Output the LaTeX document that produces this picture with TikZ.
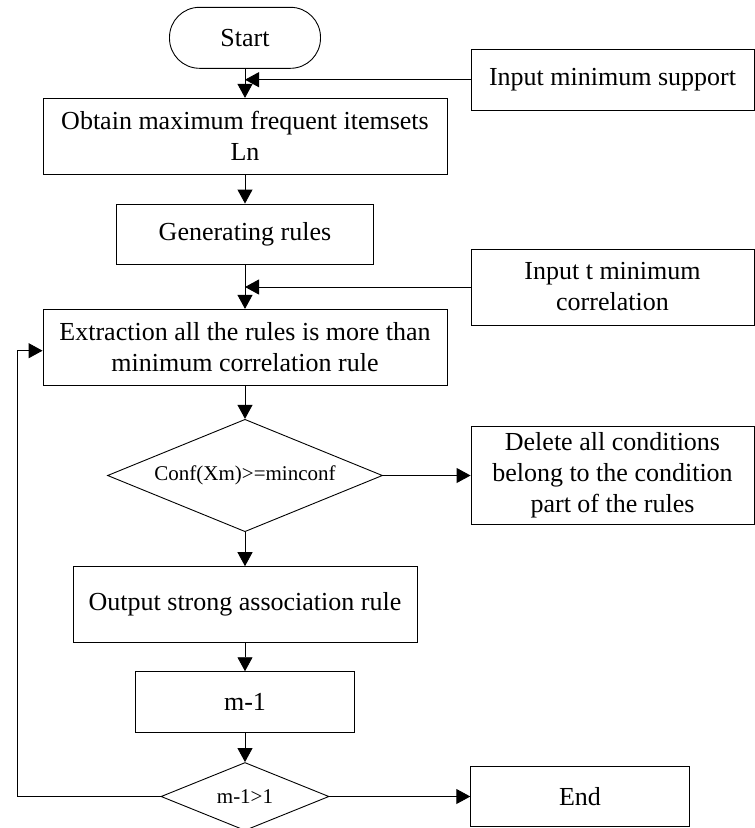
\documentclass[tikz,border=0pt]{standalone}
\usepackage{fontspec}
\setmainfont{Liberation Serif}
\usetikzlibrary{shapes.geometric,arrows.meta}
\begin{document}
\begin{tikzpicture}[x=1pt,y=-1pt,
  box/.style={draw,line width=0.9pt,inner sep=2pt,align=center,font=\fontsize{26}{31}\selectfont},
  dia/.style={draw,diamond,line width=0.9pt,inner sep=0pt,font=\fontsize{21}{25}\selectfont},
  arr/.style={line width=0.9pt,-{Triangle[length=14pt,width=15pt]}},
  ln/.style={line width=0.9pt}]
\useasboundingbox (0,0) rectangle (755,828);
\node[box,rounded corners=30pt,minimum width=151pt,minimum height=61pt] (start) at (245,37.8) {Start};
\node[box,minimum width=283pt,minimum height=61pt] (in1) at (612.5,79.7) {Input minimum support};
\node[box,minimum width=404pt,minimum height=75.7pt] (obtain) at (245,136.2) {Obtain maximum frequent itemsets\\Ln};
\node[box,minimum width=257pt,minimum height=60pt] (gen) at (245,234) {Generating rules};
\node[box,minimum width=283pt,minimum height=76pt] (in2) at (612.5,287) {Input t minimum\\correlation};
\node[box,minimum width=404pt,minimum height=75.7pt] (extr) at (245,347.2) {Extraction all the rules is more than\\minimum correlation rule};
\node[dia,aspect=2.45,minimum width=275pt,minimum height=112.4pt] (conf) at (245,475.5) {Conf(Xm)>=minconf};
\node[box,minimum width=283pt,minimum height=98.3pt] (del) at (612.5,475.5) {Delete all conditions\\belong to the condition\\part of the rules};
\node[box,minimum width=344pt,minimum height=75.3pt] (out) at (245,604.3) {Output strong association rule};
\node[box,minimum width=218.6pt,minimum height=60.6pt] (m1) at (245,702) {m-1};
\node[dia,aspect=2.47,minimum width=168pt,minimum height=68pt] (dec) at (245,796.5) {m-1>1};
\node[box,minimum width=218.5pt,minimum height=60.7pt] (end) at (580,796.5) {End};
\coordinate (lx) at (17,796.5);
\draw[arr] (start.south) -- (obtain.north);
\draw[arr] (in1.west) -- (in1.west -| start.south);
\draw[arr] (obtain.south) -- (gen.north);
\draw[arr] (gen.south) -- (extr.north);
\draw[arr] (in2.west) -- (in2.west -| gen.south);
\draw[arr] (extr.south) -- (conf.north);
\draw[arr] (conf.east) -- (del.west);
\draw[arr] (conf.south) -- (out.north);
\draw[arr] (out.south) -- (m1.north);
\draw[arr] (m1.south) -- (dec.north);
\draw[arr] (dec.east) -- (end.west);
\draw[arr] (dec.west) -- (lx) |- ([yshift=-3.5pt]extr.west);
\end{tikzpicture}
\end{document}
